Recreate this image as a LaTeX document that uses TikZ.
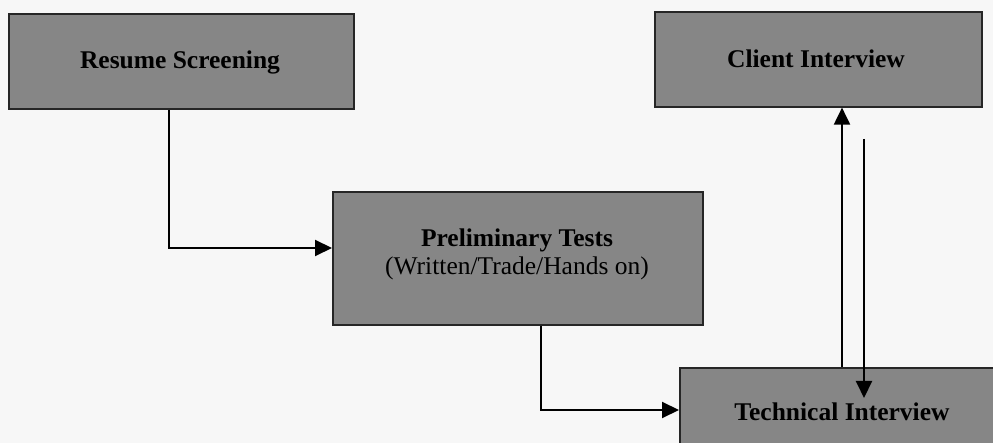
\documentclass[tikz,border=0pt]{standalone}
\usepackage{fontspec}
\setmainfont{Liberation Serif}
\usetikzlibrary{arrows.meta}
\definecolor{boxgray}{RGB}{134,134,134}
\definecolor{bg}{RGB}{247,247,247}
\tikzset{
  stagebox/.style={draw=black!85, line width=1.6pt, fill=boxgray, inner sep=0pt},
  flow/.style={draw=black, line width=2pt, -{Triangle[length=17pt,width=16pt]}},
  lbl/.style={font=\fontsize{25.5}{28}\selectfont\bfseries, text=black},
  sublbl/.style={font=\fontsize{25.5}{28}\selectfont, text=black}
}
\begin{document}
\begin{tikzpicture}[x=1pt,y=-1pt]
\useasboundingbox (0,0) rectangle (993,443);
\fill[bg] (0,0) rectangle (993,443);
\clip (0,0) rectangle (993,443);
% boxes
\node[stagebox, minimum width=345pt, minimum height=95pt, anchor=north west] (rs) at (8,13) {};
\node[lbl] (rst) at (180,62) {Resume Screening};
\node[stagebox, minimum width=327pt, minimum height=95pt, anchor=north west] (ci) at (654,11) {};
\node[lbl] (cit) at (816,59) {Client Interview};
\node[stagebox, minimum width=370pt, minimum height=133pt, anchor=north west] (pt) at (332,191) {};
\node[lbl] (ptt) at (517,240) {Preliminary Tests};
\node[sublbl] (pts) at (517,268) {(Written/Trade/Hands on)};
\node[stagebox, minimum width=340pt, minimum height=110pt, anchor=north west] (ti) at (679,367) {};
\node[lbl] (tit) at (842,412) {Technical Interview};
% connectors
\coordinate (c1) at (169,248);
\coordinate (c2) at (541,410);
\coordinate (up) at (842,200);
\coordinate (dtop) at (864,139);
\coordinate (dend) at (864,398);
\draw[flow] (rs.south west -| c1) -- (c1) -- (c1 -| pt.west);
\draw[flow] (pt.south west -| c2) -- (c2) -- (c2 -| ti.west);
\draw[flow] (ti.north west -| up) -- (ci.south west -| up);
\draw[flow] (dtop) -- (dend);
\end{tikzpicture}
\end{document}
